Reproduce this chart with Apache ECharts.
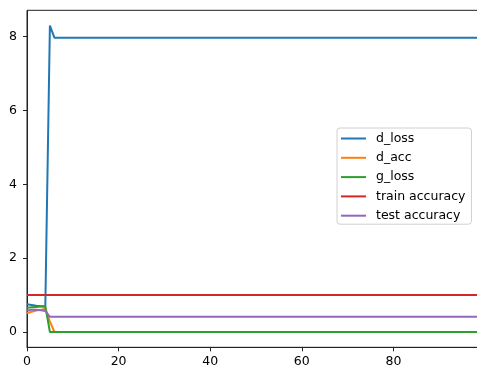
<!DOCTYPE html>
<html>
<head>
<meta charset="utf-8">
<script src="https://cdn.jsdelivr.net/npm/echarts@6/dist/echarts.min.js"></script>
<style>
  html, body { margin: 0; padding: 0; background: #fff; }
  #chart { width: 477px; height: 365px; }
</style>
</head>
<body>
<div id="chart"></div>
<script>
// Training history over 100 epochs
const epochs = [
  0, 1, 2, 3, 4, 5, 6, 7, 8, 9,
  10, 11, 12, 13, 14, 15, 16, 17, 18, 19,
  20, 21, 22, 23, 24, 25, 26, 27, 28, 29,
  30, 31, 32, 33, 34, 35, 36, 37, 38, 39,
  40, 41, 42, 43, 44, 45, 46, 47, 48, 49,
  50, 51, 52, 53, 54, 55, 56, 57, 58, 59,
  60, 61, 62, 63, 64, 65, 66, 67, 68, 69,
  70, 71, 72, 73, 74, 75, 76, 77, 78, 79,
  80, 81, 82, 83, 84, 85, 86, 87, 88, 89,
  90, 91, 92, 93, 94, 95, 96, 97, 98, 99
];

const dLoss = [
  0.75, 0.73, 0.71, 0.70, 0.69, 8.30, 7.97, 7.97, 7.97, 7.97,
  7.97, 7.97, 7.97, 7.97, 7.97, 7.97, 7.97, 7.97, 7.97, 7.97,
  7.97, 7.97, 7.97, 7.97, 7.97, 7.97, 7.97, 7.97, 7.97, 7.97,
  7.97, 7.97, 7.97, 7.97, 7.97, 7.97, 7.97, 7.97, 7.97, 7.97,
  7.97, 7.97, 7.97, 7.97, 7.97, 7.97, 7.97, 7.97, 7.97, 7.97,
  7.97, 7.97, 7.97, 7.97, 7.97, 7.97, 7.97, 7.97, 7.97, 7.97,
  7.97, 7.97, 7.97, 7.97, 7.97, 7.97, 7.97, 7.97, 7.97, 7.97,
  7.97, 7.97, 7.97, 7.97, 7.97, 7.97, 7.97, 7.97, 7.97, 7.97,
  7.97, 7.97, 7.97, 7.97, 7.97, 7.97, 7.97, 7.97, 7.97, 7.97,
  7.97, 7.97, 7.97, 7.97, 7.97, 7.97, 7.97, 7.97, 7.97, 7.97
];

const dAcc = [
  0.51, 0.55, 0.58, 0.60, 0.63, 0.28, 0, 0, 0, 0,
  0, 0, 0, 0, 0, 0, 0, 0, 0, 0,
  0, 0, 0, 0, 0, 0, 0, 0, 0, 0,
  0, 0, 0, 0, 0, 0, 0, 0, 0, 0,
  0, 0, 0, 0, 0, 0, 0, 0, 0, 0,
  0, 0, 0, 0, 0, 0, 0, 0, 0, 0,
  0, 0, 0, 0, 0, 0, 0, 0, 0, 0,
  0, 0, 0, 0, 0, 0, 0, 0, 0, 0,
  0, 0, 0, 0, 0, 0, 0, 0, 0, 0,
  0, 0, 0, 0, 0, 0, 0, 0, 0, 0
];

const gLoss = [
  0.66, 0.67, 0.68, 0.69, 0.70, 0, 0, 0, 0, 0,
  0, 0, 0, 0, 0, 0, 0, 0, 0, 0,
  0, 0, 0, 0, 0, 0, 0, 0, 0, 0,
  0, 0, 0, 0, 0, 0, 0, 0, 0, 0,
  0, 0, 0, 0, 0, 0, 0, 0, 0, 0,
  0, 0, 0, 0, 0, 0, 0, 0, 0, 0,
  0, 0, 0, 0, 0, 0, 0, 0, 0, 0,
  0, 0, 0, 0, 0, 0, 0, 0, 0, 0,
  0, 0, 0, 0, 0, 0, 0, 0, 0, 0,
  0, 0, 0, 0, 0, 0, 0, 0, 0, 0
];

const trainAcc = [
  1, 1, 1, 1, 1, 1, 1, 1, 1, 1,
  1, 1, 1, 1, 1, 1, 1, 1, 1, 1,
  1, 1, 1, 1, 1, 1, 1, 1, 1, 1,
  1, 1, 1, 1, 1, 1, 1, 1, 1, 1,
  1, 1, 1, 1, 1, 1, 1, 1, 1, 1,
  1, 1, 1, 1, 1, 1, 1, 1, 1, 1,
  1, 1, 1, 1, 1, 1, 1, 1, 1, 1,
  1, 1, 1, 1, 1, 1, 1, 1, 1, 1,
  1, 1, 1, 1, 1, 1, 1, 1, 1, 1,
  1, 1, 1, 1, 1, 1, 1, 1, 1, 1
];

const testAcc = [
  0.58, 0.60, 0.60, 0.59, 0.57, 0.41, 0.41, 0.41, 0.41, 0.41,
  0.41, 0.41, 0.41, 0.41, 0.41, 0.41, 0.41, 0.41, 0.41, 0.41,
  0.41, 0.41, 0.41, 0.41, 0.41, 0.41, 0.41, 0.41, 0.41, 0.41,
  0.41, 0.41, 0.41, 0.41, 0.41, 0.41, 0.41, 0.41, 0.41, 0.41,
  0.41, 0.41, 0.41, 0.41, 0.41, 0.41, 0.41, 0.41, 0.41, 0.41,
  0.41, 0.41, 0.41, 0.41, 0.41, 0.41, 0.41, 0.41, 0.41, 0.41,
  0.41, 0.41, 0.41, 0.41, 0.41, 0.41, 0.41, 0.41, 0.41, 0.41,
  0.41, 0.41, 0.41, 0.41, 0.41, 0.41, 0.41, 0.41, 0.41, 0.41,
  0.41, 0.41, 0.41, 0.41, 0.41, 0.41, 0.41, 0.41, 0.41, 0.41,
  0.41, 0.41, 0.41, 0.41, 0.41, 0.41, 0.41, 0.41, 0.41, 0.41
];

const xTicks = [0, 20, 40, 60, 80];
const yTicks = [0, 2, 4, 6, 8];

const seriesDefs = [
  { name: 'd_loss', values: dLoss, color: '#1f77b4' },
  { name: 'd_acc', values: dAcc, color: '#ff7f0e' },
  { name: 'g_loss', values: gLoss, color: '#2ca02c' },
  { name: 'train accuracy', values: trainAcc, color: '#d62728' },
  { name: 'test accuracy', values: testAcc, color: '#9467bd' }
];

const font = 'DejaVu Sans';
const axisColor = '#222';

const chart = echarts.init(document.getElementById('chart'), null, { renderer: 'canvas' });

chart.setOption({
  animation: false,
  backgroundColor: '#fff',
  grid: {
    left: 27, top: 10.32, right: -3.4, bottom: 17.68,
    outerBoundsMode: 'none', containLabel: false,
    show: true, borderColor: axisColor, borderWidth: 1, backgroundColor: 'transparent'
  },
  xAxis: {
    type: 'value', min: 0, max: 99,
    axisLine: { show: true, onZero: false, lineStyle: { color: axisColor, width: 1 } },
    axisTick: { show: true, length: 4, inside: false, customValues: xTicks, lineStyle: { color: axisColor } },
    axisLabel: { margin: 8, customValues: xTicks, color: '#000', fontFamily: font, fontSize: 12.5 },
    splitLine: { show: false }
  },
  yAxis: {
    type: 'value', min: -0.415, max: 8.715,
    axisLine: { show: true, onZero: false, lineStyle: { color: axisColor, width: 1 } },
    axisTick: { show: true, length: 4, inside: false, customValues: yTicks, lineStyle: { color: axisColor } },
    axisLabel: { margin: 10, customValues: yTicks, color: '#000', fontFamily: font, fontSize: 12.5 },
    splitLine: { show: false }
  },
  legend: {
    orient: 'vertical',
    left: 337, top: 128,
    icon: 'rect', itemWidth: 25, itemHeight: 2, itemGap: 4.3,
    padding: [3, 6, 1, 4],
    borderColor: '#d0d0d0', borderWidth: 1, borderRadius: 3,
    backgroundColor: 'rgba(255,255,255,0.8)',
    textStyle: { fontFamily: font, fontSize: 12.5, color: '#000', lineHeight: 15, padding: [0, 0, 0, 5] },
    data: seriesDefs.map(s => s.name)
  },
  series: seriesDefs.map(s => ({
    name: s.name,
    type: 'line',
    symbol: 'none',
    color: s.color,
    lineStyle: { color: s.color, width: 2 },
    data: epochs.map((e, i) => [e, s.values[i]])
  }))
});
</script>
</body>
</html>
